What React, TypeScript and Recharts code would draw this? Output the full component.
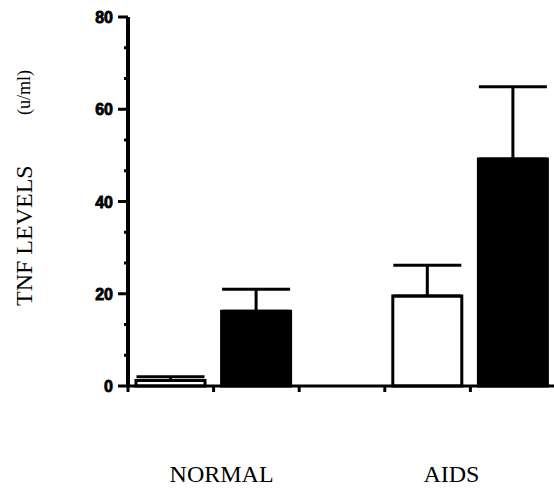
import React from "react";
import { BarChart, Bar, XAxis, YAxis, ErrorBar, Cell } from "recharts";

// ---- data ----
const categories = ["NORMAL", "AIDS"];
const openValues = [1.2, 19.5];      // open (white) bars
const openErrors = [0.8, 6.7];
const filledValues = [16.2, 49.2];   // filled (black) bars
const filledErrors = [4.8, 15.7];
const yMajorTicks = [0, 20, 40, 60, 80];
const xSlotTicks = [0, 1, 2, 3, 4, 5];

// ---- layout / style (not data) ----
const SLOTS_PER_GROUP = 3;
const MINOR_PER_MAJOR = 3;
const LABEL_DX: Record<string, number> = { NORMAL: 8, AIDS: -19 };
const SERIF = "'Liberation Serif', 'Times New Roman', serif";

const rows = categories.flatMap((cat, g) => [
  { pos: g * SLOTS_PER_GROUP + 0.5, value: openValues[g], err: [0, openErrors[g]], kind: "open", cat },
  { pos: g * SLOTS_PER_GROUP + 1.5, value: filledValues[g], err: [0, filledErrors[g]], kind: "filled", cat },
]);

const labelTickPos = categories.map((_, g) => g * SLOTS_PER_GROUP + 1);

const yAllTicks: number[] = [];
for (let i = 0; i < yMajorTicks.length; i++) {
  yAllTicks.push(yMajorTicks[i]);
  if (i < yMajorTicks.length - 1) {
    const step = (yMajorTicks[i + 1] - yMajorTicks[i]) / MINOR_PER_MAJOR;
    for (let k = 1; k < MINOR_PER_MAJOR; k++) yAllTicks.push(yMajorTicks[i] + step * k);
  }
}

const YTick = (props: any) => {
  const { x, y, payload } = props;
  const v = payload.value;
  const isMajor = yMajorTicks.some((m) => Math.abs(m - v) < 1e-6);
  return (
    <g>
      {isMajor ? (
        <line x1={x + 5} y1={y} x2={x + 15} y2={y} stroke="#000" strokeWidth={3} />
      ) : (
        <line x1={x + 11} y1={y} x2={x + 15} y2={y} stroke="#000" strokeWidth={3} />
      )}
      {isMajor && (
        <text
          x={x}
          y={y}
          dy={6}
          textAnchor="end"
          fontFamily="'Liberation Sans', Arial, sans-serif"
          fontWeight={900}
          fontSize={16}
          fill="#000"
          stroke="#000"
          strokeWidth={0.8}
        >
          {v}
        </text>
      )}
    </g>
  );
};

const XTick = (props: any) => {
  const { x, y, payload } = props;
  const idx = labelTickPos.indexOf(payload.value);
  if (idx < 0) return <g />;
  const name = categories[idx];
  return (
    <text
      x={x + (LABEL_DX[name] || 0)}
      y={y}
      dy={90}
      textAnchor="middle"
      fontFamily={SERIF}
      fontSize={24}
      fill="#000"
      style={{ fill: "#000" }}
    >
      {name}
    </text>
  );
};

const YLabel = (props: any) => {
  const vb = props.viewBox || { x: 0, y: 17, width: 128, height: 369 };
  const bx = vb.x + 32;
  const by = vb.y + vb.height - 80;
  const ux = vb.x + 30;
  const uy = vb.y + 98;
  return (
    <g style={{ color: "#000" }}>
      <text
        x={bx}
        y={by}
        transform={`rotate(-90, ${bx}, ${by})`}
        textAnchor="start"
        fontFamily={SERIF}
        fontSize={24}
        fill="#000"
        style={{ fill: "#000" }}
      >
        TNF LEVELS
      </text>
      <text
        x={ux}
        y={uy}
        transform={`rotate(-90, ${ux}, ${uy})`}
        textAnchor="start"
        fontFamily={SERIF}
        fontSize={18}
        fill="#000"
        style={{ fill: "#000" }}
      >
        (u/ml)
      </text>
    </g>
  );
};

export default function App() {
  return (
    <div style={{ position: "absolute", left: 0, top: 0, width: 554, height: 488, background: "#fff" }}>
      <BarChart
        width={554}
        height={488}
        data={rows}
        margin={{ top: 17, right: -2, bottom: 0, left: 0 }}
      >
        <XAxis
          type="number"
          dataKey="pos"
          domain={[0, 5]}
          ticks={xSlotTicks}
          interval={0}
          height={102}
          axisLine={{ stroke: "#000", strokeWidth: 3 }}
          tickLine={{ stroke: "#000", strokeWidth: 3 }}
          tickSize={6}
          tickMargin={0}
          tick={<XTick />}
          allowDataOverflow
        />
        <YAxis
          type="number"
          domain={[0, 80]}
          ticks={yAllTicks}
          interval={0}
          width={128}
          axisLine={{ stroke: "#000", strokeWidth: 4 }}
          tickLine={false}
          tickSize={10}
          tickMargin={5}
          tick={<YTick />}
          label={{ content: (p: any) => <YLabel {...p} /> }}
        />
        <Bar dataKey="value" barSize={69} isAnimationActive={false}>
          {rows.map((r, i) => (
            <Cell
              key={i}
              fill={r.kind === "open" ? "#fff" : "#000"}
              stroke="#000"
              strokeWidth={3}
            />
          ))}
          <ErrorBar dataKey="err" width={34} stroke="#000" strokeWidth={3} direction="y" />
        </Bar>
      </BarChart>
    </div>
  );
}
